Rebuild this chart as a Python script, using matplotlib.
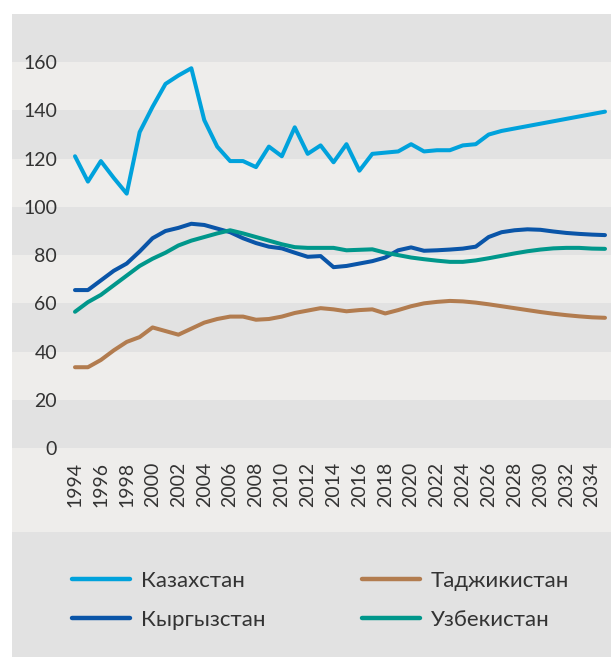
import matplotlib
matplotlib.use("Agg")
import matplotlib.pyplot as plt
from matplotlib.lines import Line2D
from matplotlib.patches import Rectangle

plt.rcParams['font.family'] = ['Lato', 'DejaVu Sans']

years = list(range(1994, 2036))

kazakhstan = [121, 110.5, 119, 112, 105.5, 131, 141.5, 151, 154.5, 157.5,
              136, 125, 119, 119, 116.5, 125, 121, 133, 122, 125.5,
              118.5, 126, 115, 122, 122.5, 123, 126, 123, 123.5, 123.5,
              125.5, 126, 130, 131.5, 132.5, 133.5, 134.5, 135.5, 136.5, 137.5,
              138.5, 139.5]
kyrgyzstan = [65.5, 65.5, 69.5, 73.5, 76.5, 81.5, 87, 90, 91.3, 93,
              92.5, 91, 89.5, 87, 85, 83.5, 82.8, 81, 79.3, 79.6,
              75, 75.5, 76.5, 77.5, 79, 82, 83.2, 81.8, 82, 82.3,
              82.7, 83.5, 87.5, 89.5, 90.3, 90.7, 90.5, 89.8, 89.2, 88.8,
              88.5, 88.3]
tajikistan = [33.5, 33.5, 36.5, 40.5, 44, 46, 50, 48.5, 47, 49.5,
              52, 53.5, 54.5, 54.5, 53.2, 53.5, 54.5, 56, 57, 58,
              57.5, 56.7, 57.2, 57.5, 55.8, 57.2, 58.8, 60, 60.6, 61,
              60.8, 60.3, 59.6, 58.8, 58, 57.2, 56.4, 55.7, 55.1, 54.6,
              54.2, 54]
uzbekistan = [56.5, 60.5, 63.5, 67.5, 71.5, 75.5, 78.5, 81, 84, 86,
              87.5, 89, 90.3, 89, 87.5, 86, 84.5, 83.3, 83, 83,
              83, 82, 82.2, 82.4, 81, 80, 79, 78.3, 77.7, 77.2,
              77.2, 77.8, 78.7, 79.7, 80.7, 81.6, 82.3, 82.8, 83, 83,
              82.7, 82.6]

series_names = ['Казахстан', 'Кыргызстан', 'Таджикистан', 'Узбекистан']
series_values = [kazakhstan, kyrgyzstan, tajikistan, uzbekistan]
series_colors = ['#00a2dc', '#0a55a8', '#b27c4f', '#00978b']

y_ticks = list(range(0, 161, 20))
x_ticks = list(range(1994, 2035, 2))

DARK = '#e2e2e2'
LIGHT = '#eeedeb'
TEXT = '#333333'

W, H = 611, 657
fig = plt.figure(figsize=(W / 100, H / 100), dpi=100)
fig.patch.set_facecolor('white')

# axes region in pixels
left_px, right_px, top_px, bottom_px = 12, 611, 14, 448
ax = fig.add_axes([left_px / W, (H - bottom_px) / H,
                   (right_px - left_px) / W, (bottom_px - top_px) / H])
ax.set_zorder(1)

# x scale: 1994 at px 75, 2035 at px 605
ppy = (605 - 75) / (2035 - 1994)
ax.set_xlim(1994 - (75 - left_px) / ppy, 2035 + (right_px - 605) / ppy)
ax.set_ylim(0, 180)

for i, lo in enumerate(range(0, 180, 20)):
    ax.axhspan(lo, lo + 20, color=DARK if i % 2 == 0 else LIGHT, lw=0, zorder=0)

# bottom areas (below axes)
fig.patches.append(Rectangle((left_px / W, (H - 532) / H), (right_px - left_px) / W,
                             (532 - bottom_px) / H, transform=fig.transFigure,
                             facecolor=LIGHT, lw=0, zorder=-10))
fig.patches.append(Rectangle((left_px / W, 0), (right_px - left_px) / W,
                             (H - 532) / H, transform=fig.transFigure,
                             facecolor=DARK, lw=0, zorder=-10))

for name, vals, col in zip(series_names, series_values, series_colors):
    ax.plot(years, vals, color=col, lw=2.9, solid_joinstyle='round',
            solid_capstyle='round', zorder=3, label=name)

for s in ax.spines.values():
    s.set_visible(False)

ax.set_yticks(y_ticks)
ax.set_yticklabels([str(v) for v in y_ticks])
ax.set_xticks(x_ticks)
ax.set_xticklabels([str(v) for v in x_ticks], rotation=90)
ax.tick_params(axis='y', length=0, pad=-32.4, labelsize=14, labelcolor=TEXT)
ax.tick_params(axis='x', length=0, pad=10, labelsize=14, labelcolor=TEXT)
for lab in ax.get_xticklabels():
    lab.set_verticalalignment('top')

handles = [Line2D([], [], color=c, lw=3.2, solid_capstyle='round') for c in series_colors]
common = dict(frameon=False, fontsize=16, handlelength=2.6, handletextpad=0.5,
              labelspacing=0.85, borderpad=0, borderaxespad=0, labelcolor=TEXT)
fig.legend(handles[:2], series_names[:2], loc='upper left',
           bbox_to_anchor=(72 / W, (H - 571) / H), **common)
fig.legend(handles[2:], series_names[2:], loc='upper left',
           bbox_to_anchor=(362 / W, (H - 571) / H), **common)

fig.savefig('out.png', dpi=100)
